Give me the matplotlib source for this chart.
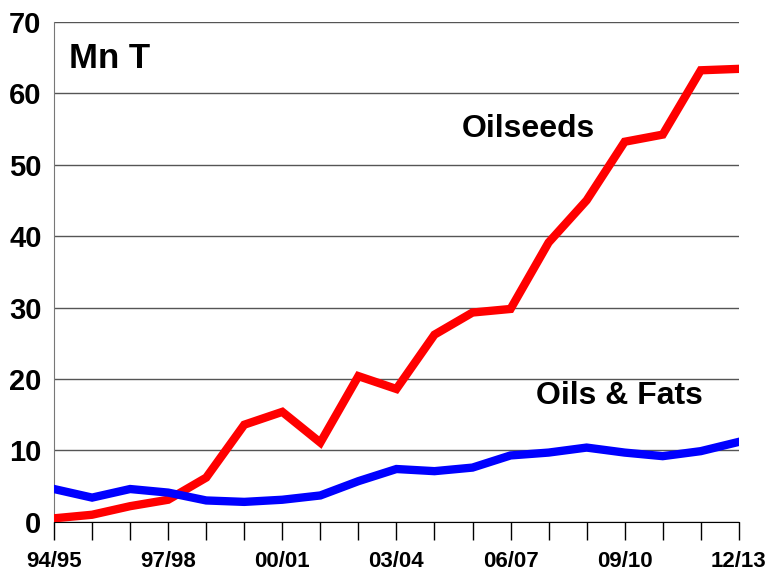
import matplotlib.pyplot as plt

plt.rcParams['font.family'] = ['Liberation Sans', 'DejaVu Sans']
plt.rcParams['font.weight'] = 'bold'

# Marketing seasons 1994/95 .. 2012/13
seasons = ['94/95', '95/96', '96/97', '97/98', '98/99', '99/00', '00/01',
           '01/02', '02/03', '03/04', '04/05', '05/06', '06/07', '07/08',
           '08/09', '09/10', '10/11', '11/12', '12/13']
oilseeds = [0.5, 1.0, 2.2, 3.1, 6.2, 13.6, 15.4, 11.1, 20.4, 18.6, 26.2,
            29.3, 29.8, 39.1, 45.0, 53.2, 54.2, 63.2, 63.4]
oils_fats = [4.6, 3.4, 4.6, 4.1, 3.0, 2.8, 3.1, 3.7, 5.7, 7.4, 7.1,
             7.6, 9.3, 9.7, 10.4, 9.7, 9.2, 9.9, 11.2]

fig = plt.figure(figsize=(7.72, 5.71), dpi=100)
ax = fig.add_axes([0.070, 0.086, 0.887, 0.876])

x = list(range(len(seasons)))
ax.plot(x, oilseeds, color='#ff0000', lw=6, solid_joinstyle='miter', zorder=3)
ax.plot(x, oils_fats, color='#0000ff', lw=6, solid_joinstyle='miter', zorder=3)

ax.set_xlim(0, len(seasons) - 1)
ax.set_ylim(0, 70)
ax.set_yticks(range(0, 71, 10))
ax.yaxis.grid(True, color='#555555', lw=1)
ax.set_axisbelow(True)

ax.set_xticks(x)
ax.set_xticklabels([s if i % 3 == 0 else '' for i, s in enumerate(seasons)])
ax.tick_params(axis='x', direction='out', length=13, width=1, pad=8,
               labelsize=16, color='black')
ax.tick_params(axis='y', length=0, pad=9, labelsize=21)
for lbl in ax.get_xticklabels() + ax.get_yticklabels():
    lbl.set_fontweight('bold')

for side in ['top', 'right']:
    ax.spines[side].set_visible(False)
ax.spines['left'].set_color('#777777')
ax.spines['bottom'].set_color('black')

ax.text(0.022, 0.926, 'Mn T', transform=ax.transAxes, fontsize=25,
        fontweight='bold', va='center', ha='left')
ax.text(12.48, 55.0, 'Oilseeds', fontsize=23, fontweight='bold',
        va='center', ha='center')
ax.text(14.87, 17.6, 'Oils & Fats', fontsize=23, fontweight='bold',
        va='center', ha='center')

fig.savefig('out.png', dpi=100)
